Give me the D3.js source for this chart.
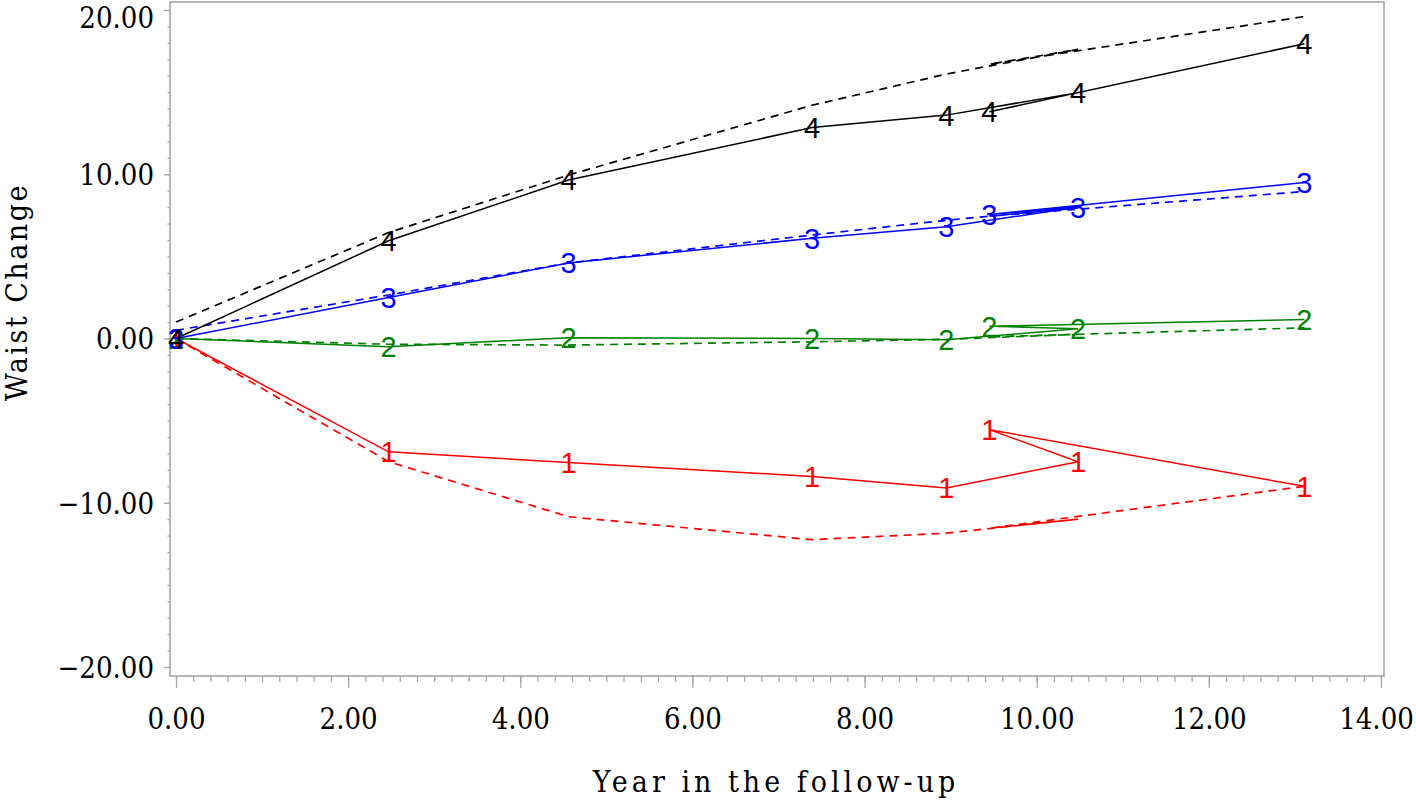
<!DOCTYPE html>
<html><head><meta charset="utf-8">
<script src="https://cdn.jsdelivr.net/npm/d3@7"></script>
<style>
body{margin:0;background:#fff;}
svg{display:block;}
.tick text{font-family:"DejaVu Serif Condensed","DejaVu Serif",serif;font-stretch:condensed;font-size:29px;fill:#000;}
.title{font-family:"DejaVu Serif Condensed","DejaVu Serif",serif;font-stretch:condensed;font-size:30px;fill:#000;}
.mk{font-family:"Liberation Sans",Arial,sans-serif;font-size:29px;}
</style></head>
<body>
<svg id="c" width="1416" height="803"></svg>
<script>
// ---- data ----
const years = [0, 2.47, 4.56, 7.39, 8.95, 10.48, 9.45, 13.11];
const groups = ["1", "2", "3", "4"];
const colors = ["#ff0000", "#008000", "#0000ff", "#000000"];
const observed1 = [0, -6.9, -7.55, -8.4, -9.1, -7.5, -5.55, -9.0];
const observed2 = [0, -0.5, 0.05, 0.0, -0.08, 0.6, 0.75, 1.15];
const observed3 = [0, 2.5, 4.6, 6.1, 6.8, 8.0, 7.55, 9.5];
const observed4 = [0, 5.95, 9.65, 12.84, 13.6, 14.97, 13.8, 17.95];
const fitted1 = [0, -7.5, -10.85, -12.25, -11.85, -11.0, -11.55, -9.0];
const fitted2 = [0, -0.35, -0.4, -0.2, -0.05, 0.25, 0.1, 0.65];
const fitted3 = [0.5, 2.65, 4.6, 6.3, 7.2, 7.95, 7.45, 8.95];
const fitted4 = [1.0, 6.45, 9.95, 14.2, 16.1, 17.6, 16.7, 19.6];
const xTicks = [0, 2, 4, 6, 8, 10, 12, 14];
const yTicks = [-20, -10, 0, 10, 20];
const xTitle = "Year in the follow-up";
const yTitle = "Waist Change";

const observed = [observed1, observed2, observed3, observed4];
const fitted = [fitted1, fitted2, fitted3, fitted4];

const svg = d3.select("#c");
const x = d3.scaleLinear().domain([0, 14]).range([176, 1381]);
const y = d3.scaleLinear().domain([-20, 20]).range([667, 10]);
const fmt = d3.format(".2f");
const frame = {l:170, r:1384, t:2, b:676};
const gray = "#a3a7ab";

// minor ticks
const xMinor = d3.range(0, 14.0001, 0.2);
svg.append("g").attr("transform", `translate(0,${frame.b})`)
  .call(d3.axisBottom(x).tickValues(xMinor).tickSize(6).tickFormat(""))
  .call(g => g.select(".domain").remove())
  .call(g => g.selectAll("line").attr("stroke", gray).attr("stroke-width", 1.3));
const yMinor = d3.range(-20, 20.0001, 1);
svg.append("g").attr("transform", `translate(${frame.l},0)`)
  .call(d3.axisLeft(y).tickValues(yMinor).tickSize(2.5).tickFormat(""))
  .call(g => g.select(".domain").remove())
  .call(g => g.selectAll("line").attr("stroke", gray).attr("stroke-width", 1.3));

// major axes
svg.append("g").attr("transform", `translate(0,${frame.b})`)
  .call(d3.axisBottom(x).tickValues(xTicks).tickSize(12).tickPadding(20).tickFormat(fmt))
  .call(g => g.select(".domain").remove())
  .call(g => g.selectAll("line").attr("stroke", gray).attr("stroke-width", 1.3))
  .call(g => g.selectAll("text").attr("dx", d => d === 14 ? "-5" : "0"));
svg.append("g").attr("transform", `translate(${frame.l},0)`)
  .call(d3.axisLeft(y).tickValues(yTicks).tickSize(6).tickPadding(10).tickFormat(fmt))
  .call(g => g.select(".domain").remove())
  .call(g => g.selectAll("line").attr("stroke", gray).attr("stroke-width", 1.3))
  .call(g => g.selectAll("text").attr("dy", d => d === 20 ? "0.62em" : "0.36em"));

// frame
svg.append("rect").attr("x", frame.l).attr("y", frame.t)
  .attr("width", frame.r - frame.l).attr("height", frame.b - frame.t)
  .attr("fill", "none").attr("stroke", gray).attr("stroke-width", 1.6);

// titles
svg.append("text").attr("class", "title").attr("x", 776).attr("y", 792)
  .attr("text-anchor", "middle").style("letter-spacing", "4px").text(xTitle);
svg.append("text").attr("class", "title")
  .attr("transform", "translate(27,292) rotate(-90)")
  .attr("text-anchor", "middle").style("letter-spacing", "2.5px").text(yTitle);

const line = d3.line().x(d => x(d[0])).y(d => y(d[1]));

// fitted (dashed)
fitted.forEach((vals, i) => {
  svg.append("path").datum(years.map((t, j) => [t, vals[j]]))
    .attr("d", line).attr("fill", "none").attr("stroke", colors[i])
    .attr("stroke-width", 1.7).attr("stroke-dasharray", "8,6");
});
// observed (solid with digit markers)
observed.forEach((vals, i) => {
  const pts = years.map((t, j) => [t, vals[j]]);
  svg.append("path").datum(pts)
    .attr("d", line).attr("fill", "none").attr("stroke", colors[i])
    .attr("stroke-width", 1.5);
});
observed.forEach((vals, i) => {
  const pts = years.map((t, j) => [t, vals[j]]);
  svg.append("g").selectAll("text").data(pts).join("text")
    .attr("class", "mk").attr("fill", colors[i])
    .attr("x", d => x(d[0])).attr("y", d => y(d[1]) + 10.5)
    .attr("text-anchor", "middle").text(groups[i]);
});
</script>
</body></html>
